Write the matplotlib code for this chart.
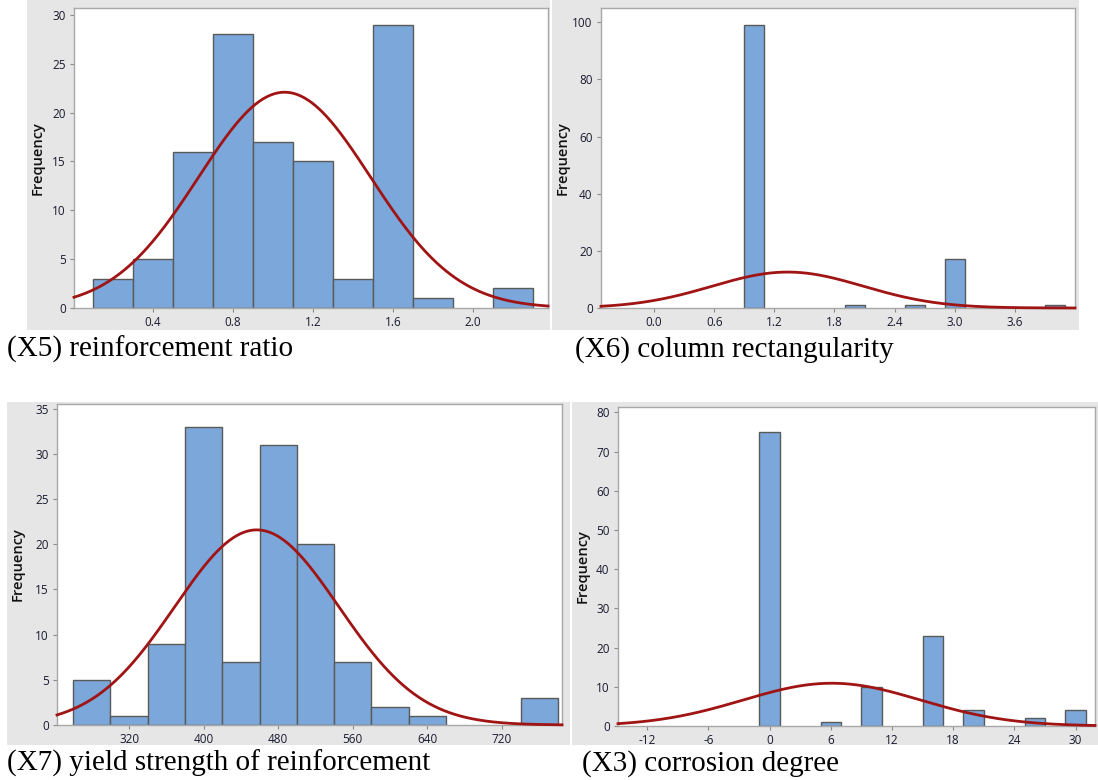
import matplotlib
matplotlib.use("Agg")
import matplotlib.pyplot as plt
import numpy as np
from matplotlib.patches import Rectangle

# ── Data ──────────────────────────────────────────────────────────────────────

# (X5) reinforcement ratio
x5_edges_left = [0.1, 0.3, 0.5, 0.7, 0.9, 1.1, 1.3, 1.5, 1.7, 1.9, 2.1]
x5_counts = [3, 5, 16, 28, 17, 15, 3, 29, 1, 0, 2]
x5_binw = 0.2
x5_mean, x5_sd = 1.058, 0.43

# (X6) column rectangularity
x6_edges_left = [0.9, 1.9, 2.5, 2.9, 3.9]
x6_counts = [99, 1, 1, 17, 1]
x6_binw = 0.2
x6_mean, x6_sd = 1.333, 0.755

# (X7) yield strength of reinforcement
x7_edges_left = [260, 300, 340, 380, 420, 460, 500, 540, 580, 620, 660, 700, 740]
x7_counts = [5, 1, 9, 33, 7, 31, 20, 7, 2, 1, 0, 0, 3]
x7_binw = 40
x7_mean, x7_sd = 457.0, 88.0

# (X3) corrosion degree
x3_edges_left = [-1, 5, 9, 15, 19, 25, 29]
x3_counts = [75, 1, 10, 23, 4, 2, 4]
x3_binw = 2
x3_mean, x3_sd = 6.1, 8.7

N_OBS = 119

# ── Style ─────────────────────────────────────────────────────────────────────

BAR_COLOR = "#7ba7da"
BAR_EDGE = "#5a5a5a"
CURVE_COLOR = "#a01414"
PANEL_BG = "#e6e6e6"
FRAME_COLOR = "#a8a8a8"
TICK_FONT = "Open Sans"
CAPTION_FONT = "Liberation Serif"

W, H = 1098, 780


def fx(px):
    return px / W


def fy(py):
    return 1 - py / H


fig = plt.figure(figsize=(W / 100, H / 100), dpi=100)
fig.patch.set_facecolor("white")

# grey Minitab panel backgrounds (pixel boxes: x0, y0, x1, y1)
for x0, y0, x1, y1 in [(27, 0, 550, 330), (552, 0, 1079, 330),
                       (7, 402, 570, 745), (572, 402, 1098, 745)]:
    fig.patches.append(Rectangle((fx(x0), fy(y1)), fx(x1 - x0), (y1 - y0) / H,
                                 transform=fig.transFigure, facecolor=PANEL_BG,
                                 edgecolor="none", zorder=-5))


def hist_panel(box, edges_left, counts, binw, mean, sd, xlim, ylim,
               xticks, yticks, xfmt, ylab_x):
    x0, y0, x1, y1 = box
    ax = fig.add_axes([fx(x0), fy(y1), fx(x1 - x0), (y1 - y0) / H])
    ax.set_zorder(1)
    ax.set_facecolor("white")
    lefts = [e for e, c in zip(edges_left, counts) if c > 0]
    heights = [c for c in counts if c > 0]
    ax.bar(lefts, heights, width=binw, align="edge", color=BAR_COLOR,
           edgecolor=BAR_EDGE, linewidth=1.0, zorder=2)
    xs = np.linspace(xlim[0], xlim[1], 400)
    ys = N_OBS * binw / (sd * np.sqrt(2 * np.pi)) * np.exp(-0.5 * ((xs - mean) / sd) ** 2)
    ax.plot(xs, ys, color=CURVE_COLOR, linewidth=2.0, zorder=3, clip_on=False)
    ax.set_xlim(*xlim)
    ax.set_ylim(*ylim)
    ax.set_xticks(xticks)
    ax.set_xticklabels([xfmt.format(t) for t in xticks])
    ax.set_yticks(yticks)
    for s in ax.spines.values():
        s.set_color(FRAME_COLOR)
        s.set_linewidth(1.0)
    ax.tick_params(direction="out", length=3, width=0.8, color="#8a8a8a",
                   labelsize=8.5, labelcolor="#1a1a30", pad=3)
    for lab in ax.get_xticklabels() + ax.get_yticklabels():
        lab.set_fontfamily(TICK_FONT)
    ax.set_ylabel("Frequency", fontsize=10.5, fontfamily=TICK_FONT,
                  fontweight="semibold", color="#111111")
    ax.yaxis.set_label_coords(ylab_x, 0.5)
    return ax


hist_panel((74, 8, 548, 308), x5_edges_left, x5_counts, x5_binw, x5_mean, x5_sd,
           (0.005, 2.375), (0, 30.7), [0.4, 0.8, 1.2, 1.6, 2.0],
           list(range(0, 31, 5)), "{:.1f}", -0.062)

hist_panel((601, 8, 1075, 308), x6_edges_left, x6_counts, x6_binw, x6_mean, x6_sd,
           (-0.53, 4.2), (0, 105), [0.0, 0.6, 1.2, 1.8, 2.4, 3.0, 3.6],
           list(range(0, 101, 20)), "{:.1f}", -0.066)

hist_panel((57, 404, 562, 725), x7_edges_left, x7_counts, x7_binw, x7_mean, x7_sd,
           (242.7, 784.4), (0, 35.5), [320, 400, 480, 560, 640, 720],
           list(range(0, 36, 5)), "{:d}", -0.064)

hist_panel((618, 407, 1095, 726), x3_edges_left, x3_counts, x3_binw, x3_mean, x3_sd,
           (-14.85, 31.9), (0, 81.4), [-12, -6, 0, 6, 12, 18, 24, 30],
           list(range(0, 81, 10)), "{:d}", -0.060)

# captions under each panel
captions = ["(X5) reinforcement ratio", "(X6) column rectangularity",
            "(X7) yield strength of reinforcement", "(X3) corrosion degree"]
cap_pos = [(7, 357), (575, 357), (7, 771), (582, 771)]
for text, (px, py) in zip(captions, cap_pos):
    fig.text(fx(px), fy(py), text, fontsize=21, fontfamily=CAPTION_FONT,
             color="black", ha="left", va="baseline")

fig.savefig("out.png", dpi=100)
